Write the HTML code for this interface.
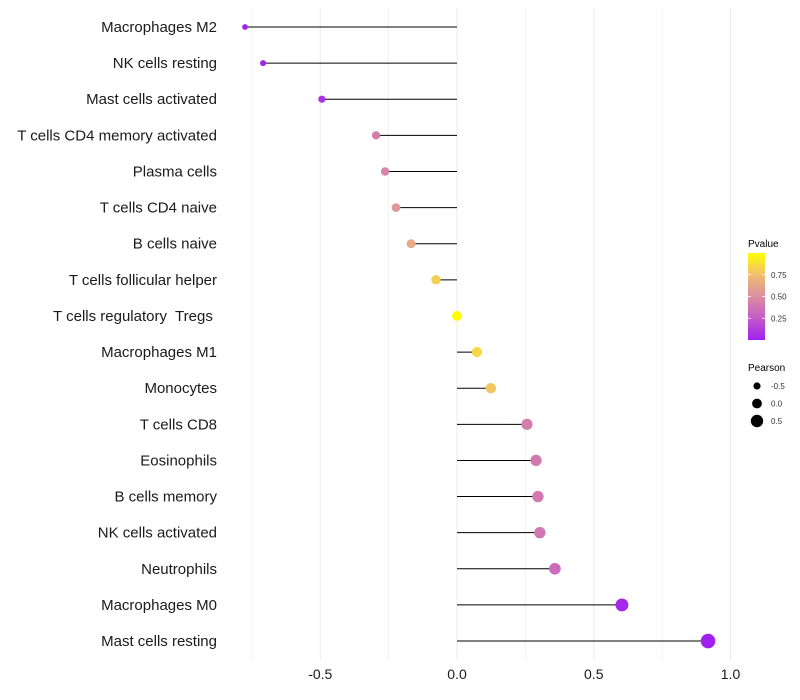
<!DOCTYPE html>
<html><head><meta charset="utf-8"><style>
body{margin:0;background:#fff;}
svg{display:block;font-family:"Liberation Sans",sans-serif;}
text{white-space:pre;}
</style></head><body>
<svg id="chart" width="800" height="700">
<defs><linearGradient id="pg" x1="0" y1="1" x2="0" y2="0">
<stop offset="0" stop-color="#A020F0"/><stop offset="0.25" stop-color="#C45AC8"/><stop offset="0.5" stop-color="#DC8EA0"/><stop offset="0.75" stop-color="#F0BE70"/><stop offset="1" stop-color="#FFFF00"/>
</linearGradient></defs>
<g id="grid"></g><g id="marks"></g><g id="labels"></g><g id="xticks"></g>
<g>
<text x="748" y="247" font-size="10" fill="#000">Pvalue</text>
<rect x="748" y="253" width="17" height="87" fill="url(#pg)"/>
<g id="cbticks"></g>
</g>
<g>
<text x="748" y="371" font-size="10" fill="#000">Pearson</text>
<g id="sizeleg"></g>
</g>
</svg>
<script>
const categories=["Macrophages M2","NK cells resting","Mast cells activated","T cells CD4 memory activated","Plasma cells","T cells CD4 naive","B cells naive","T cells follicular helper","T cells regulatory  Tregs ","Macrophages M1","Monocytes","T cells CD8","Eosinophils","B cells memory","NK cells activated","Neutrophils","Macrophages M0","Mast cells resting"];
const pearson=[-0.775,-0.709,-0.494,-0.296,-0.263,-0.223,-0.168,-0.077,0.0,0.073,0.124,0.256,0.289,0.296,0.303,0.358,0.603,0.918];
const pvalue=[0.01,0.02,0.08,0.42,0.45,0.55,0.65,0.82,0.99,0.85,0.78,0.42,0.40,0.40,0.39,0.33,0.03,0.01];
const xTicks=[-0.5,0,0.5,1.0];
const xTickLabels=["-0.5","0.0","0.5","1.0"];
const cbTicks=[0.25,0.5,0.75];
const sizeLegend=[-0.5,0,0.5];
const NS="http://www.w3.org/2000/svg";
const X=v=>457+v*273.5;
const Y=i=>27+i*36.12;
const R=p=>4.9+2.6*p;
const stops=[[0,[160,32,240]],[0.25,[196,90,200]],[0.5,[220,142,160]],[0.75,[240,190,112]],[1,[255,255,0]]];
function col(p){for(let k=0;k<stops.length-1;k++){const a=stops[k],b=stops[k+1];if(p<=b[0]){const t=(p-a[0])/(b[0]-a[0]);return "rgb("+a[1].map((c,j)=>Math.round(c+(b[1][j]-c)*t)).join(",")+")";}}return "rgb(255,255,0)";}
function mk(tag,attrs,parent){const e=document.createElementNS(NS,tag);for(const k in attrs)e.setAttribute(k,attrs[k]);document.getElementById(parent).appendChild(e);return e;}
for(let v=-0.75;v<=1.01;v+=0.25){
 const g=mk("line",{x1:X(v),x2:X(v),y1:8,y2:660,stroke:"#ebebeb","stroke-width":Math.abs(v*2-Math.round(v*2))<0.01?1:0.6},"grid");
 
 
}
categories.forEach((c,i)=>{
 const l=mk("line",{x1:X(0),x2:X(pearson[i]),y1:Y(i),y2:Y(i),stroke:"#000","stroke-width":1},"marks");
 
 
 const d=mk("circle",{cx:X(pearson[i]),cy:Y(i),r:R(pearson[i]),fill:col(pvalue[i])},"marks");
 
 
 const t=mk("text",{x:217,y:Y(i)+5,"text-anchor":"end","font-size":15,fill:"#1a1a1a"},"labels");
 t.textContent=c;
 
 
});
xTicks.forEach((v,i)=>{
 const t=mk("text",{x:X(v),y:679,"text-anchor":"middle","font-size":14,fill:"#1a1a1a"},"xticks");
 t.textContent=xTickLabels[i];
 
 
});
cbTicks.forEach(v=>{
 const y=340-v*87;
 const l=mk("line",{x1:748,x2:751,y1:y,y2:y,stroke:"#fff","stroke-width":0.8},"cbticks");
 
 
 const l2=mk("line",{x1:762,x2:765,y1:y,y2:y,stroke:"#fff","stroke-width":0.8},"cbticks");
 
 
 const t=mk("text",{x:771,y:y+3,"font-size":8,fill:"#333"},"cbticks");
 t.textContent=v.toFixed(2);
 
 
});
sizeLegend.forEach((v,i)=>{
 const y=386+i*17.5;
 const c=mk("circle",{cx:757,cy:y,r:R(v),fill:"#000"},"sizeleg");
 
 
 const t=mk("text",{x:771,y:y+3,"font-size":8,fill:"#333"},"sizeleg");
 t.textContent=v.toFixed(1);
 
 
});
</script>
</body></html>
